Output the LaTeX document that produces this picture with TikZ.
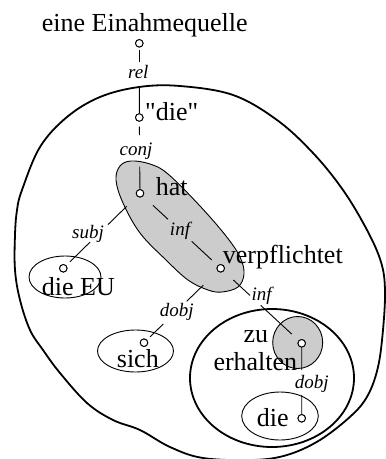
\documentclass[tikz,border=0pt]{standalone}
\usepackage{fontspec}
\setmainfont{Liberation Serif}[Ligatures=TeXOff]
\usetikzlibrary{calc}
\begin{document}
\begin{tikzpicture}[x=1pt,y=-1pt,
  word/.style={inner sep=0pt, anchor=base west, font=\fontsize{26}{29}\selectfont},
  lab/.style={inner sep=0pt, anchor=base, font=\fontsize{19}{22}\selectfont\itshape},
  dot/.style={circle, draw, fill=white, line width=0.9pt, minimum size=7.5pt, inner sep=0pt},
  conn/.style={line width=0.9pt},
  big/.style={line width=1.8pt},
  grp/.style={line width=0.9pt},
  shadearea/.style={fill=black!20, draw, line width=0.9pt}]
\useasboundingbox (0,0) rectangle (386,459);

% outer group
\draw[big] plot[smooth cycle, tension=0.6] coordinates {
 (139,87) (180,86) (233,95) (277,120) (313,153) (343,190) (367,230)
 (381,262) (385,290) (383,330) (378,367) (368,395) (352,415) (320,440)
 (287,455) (253,460) (203,458) (170,447) (140,430) (113,420) (87,403)
 (60,373) (43,350) (30,330) (20,300) (15,270) (15,235) (17,210) (22,190)
 (40,147) (67,117) (100,97)};
% inner group
\draw[big] (272,378) ellipse [x radius=82, y radius=69];
% shaded chunk hat/verpflichtet
\draw[shadearea] plot[smooth cycle, tension=0.6] coordinates {
 (131,161) (150,164) (168,174) (200,206) (226,236) (240,257) (244,274)
 (238,287) (222,292) (208,290) (188,280) (166,260) (140,233) (123,203)
 (116,180) (120,166)};
% shaded chunk zu erhalten
\draw[shadearea] (297.7,342.5) ellipse [x radius=25, y radius=26];
% small groups
\draw[grp] (65,277) ellipse [x radius=36, y radius=21];
\draw[grp] (135.5,351) ellipse [x radius=38, y radius=21];
\draw[grp] (280,416) ellipse [x radius=38.3, y radius=24];

% word dots
\node[dot] (c0) at (139.3,43.3) {};
\node[dot] (cdie) at (139.3,117.5) {};
\node[dot] (chat) at (140,193.3) {};
\node[dot] (cverp) at (220.7,268.3) {};
\node[dot] (cEU) at (63.3,268.3) {};
\node[dot] (csich) at (144,342.7) {};
\node[dot] (cerh) at (301.7,343.3) {};
\node[dot] (cdie2) at (301.7,418.3) {};

% connectors
\draw[conn] ($(c0)!0.09!(cdie)$) -- ($(c0)!0.252!(cdie)$);
\draw[conn] ($(c0)!0.589!(cdie)$) -- (cdie);
\draw[conn] ($(cdie)!0.121!(chat)$) -- ($(cdie)!0.231!(chat)$);
\draw[conn] ($(cdie)!0.649!(chat)$) -- (chat);
\draw[conn] ($(chat)!0.161!(cverp)$) -- ($(chat)!0.347!(cverp)$);
\draw[conn] ($(chat)!0.641!(cverp)$) -- ($(chat)!0.889!(cverp)$);
\draw[conn] ($(chat)!0.173!(cEU)$) -- ($(chat)!0.417!(cEU)$);
\draw[conn] ($(chat)!0.652!(cEU)$) -- ($(chat)!0.913!(cEU)$);
\draw[conn] ($(cverp)!0.227!(csich)$) -- ($(cverp)!0.443!(csich)$);
\draw[conn] ($(cverp)!0.748!(csich)$) -- ($(cverp)!0.922!(csich)$);
\draw[conn] ($(cverp)!0.156!(cerh)$) -- ($(cverp)!0.362!(cerh)$);
\draw[conn] ($(cverp)!0.495!(cerh)$) -- ($(cverp)!0.877!(cerh)$);
\draw[conn] (cerh) -- ($(cerh)!0.356!(cdie2)$);
\draw[conn] ($(cerh)!0.689!(cdie2)$) -- (cdie2);

% redraw dots on top
\foreach \n in {c0,cdie,chat,cverp,cEU,csich,cerh,cdie2}
  \node[dot] at (\n) {};

% relation labels
\node[lab] (lrel) at (138.3,78.3) {rel};
\node[lab] (lconj) at (136,155) {conj};
\node[lab] (linf1) at (180,235) {inf};
\node[lab] (lsubj) at (88,238.3) {subj};
\node[lab] (ldobj1) at (176.7,316.7) {dobj};
\node[lab] (linf2) at (261.7,300) {inf};
\node[lab] (ldobj2) at (311.7,388.3) {dobj};

% words
\node[word] (wtitle) at (41.7,31.7) {eine Einahmequelle};
\node[word] (wdieq) at (145,120) {"die"};
\node[word] (what) at (155.7,195) {hat};
\node[word] (wverp) at (222.7,263.3) {verpflichtet};
\node[word] (weu) at (41.7,295) {die EU};
\node[word] (wsich) at (116.7,367.3) {sich};
\node[word] (wzu) at (243.3,342.7) {zu};
\node[word] (werh) at (213.3,370) {erhalten};
\node[word] (wdie) at (256.7,426.7) {die};
\end{tikzpicture}
\end{document}
